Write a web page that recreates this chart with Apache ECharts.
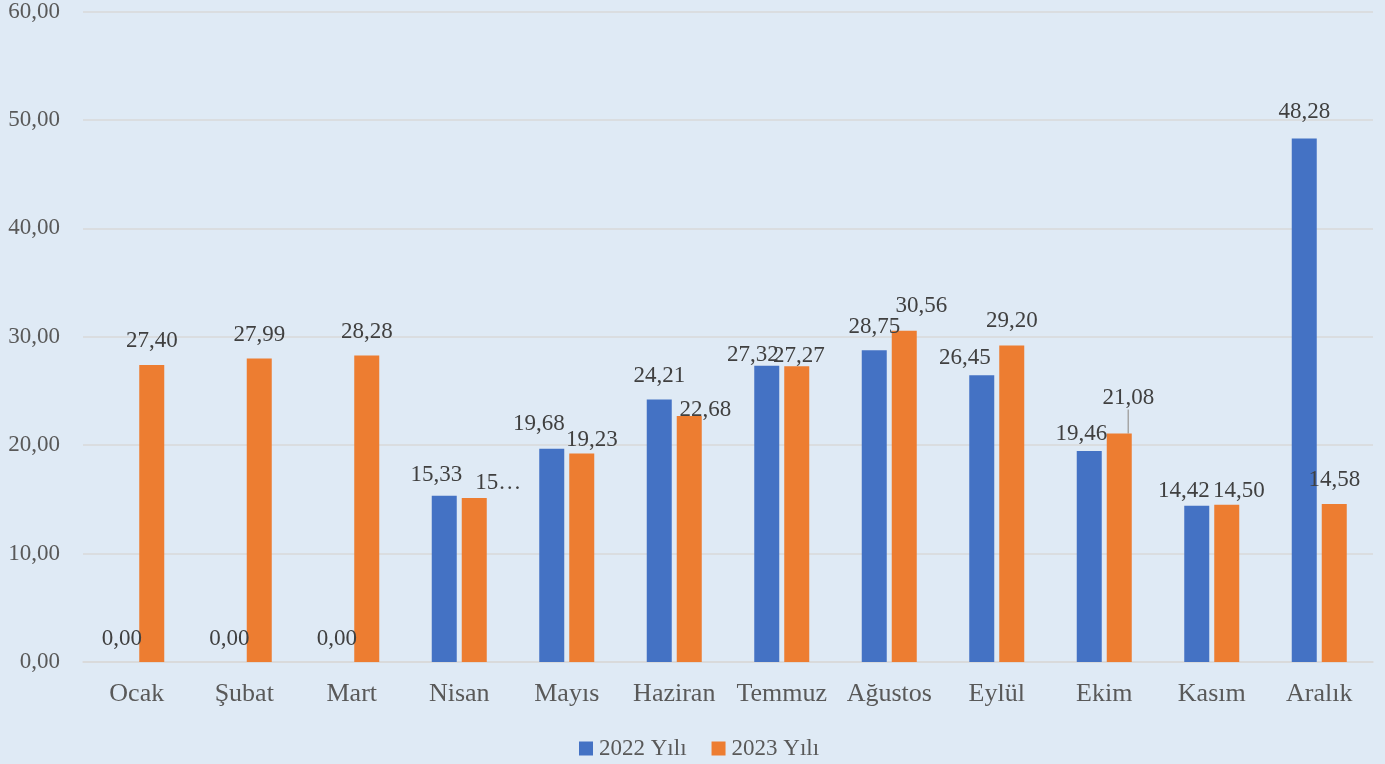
<!DOCTYPE html>
<html>
<head>
<meta charset="utf-8">
<script src="https://cdn.jsdelivr.net/npm/echarts@6/dist/echarts.min.js"></script>
<style>
  html, body { margin: 0; padding: 0; background: #dfeaf5; }
  #main { width: 1385px; height: 764px; }
</style>
</head>
<body>
<div id="main"></div>
<script>
// aylar
const months = ['Ocak', 'Şubat', 'Mart', 'Nisan', 'Mayıs', 'Haziran', 'Temmuz', 'Ağustos', 'Eylül', 'Ekim', 'Kasım', 'Aralık']
const values2022 = [0, 0, 0, 15.33, 19.68, 24.21, 27.32, 28.75, 26.45, 19.46, 14.42, 48.28]
const values2023 = [27.40, 27.99, 28.28, 15.12, 19.23, 22.68, 27.27, 30.56, 29.20, 21.08, 14.50, 14.58]
const seriesNames = ['2022 Yılı', '2023 Yılı']

const FONT = 'Liberation Serif'
const fmt = v => v.toFixed(2).replace('.', ',')

// etiket kaydırmaları (Excel'deki gibi çakışmayı önlemek için) [dx, dy]
const shifts = [
  { 3: [-8, 3], 4: [-13, -1], 6: [-14, 13], 8: [-17, 6], 9: [-8, 6], 10: [-13, 9], 11: [0, -3] },
  { 3: [24, 8], 4: [10, 10], 5: [16, 17], 6: [2, 13], 7: [17, -1], 8: [0, -1], 9: [9, -12], 10: [12, 10] }
]

function buildData(values, seriesIdx) {
  return values.map((v, i) => {
    const item = { value: v }
    if (seriesIdx === 1 && i === 3) item.label = { formatter: '15…' }
    if (seriesIdx === 1 && i === 9) item.labelLine = { show: true }
    return item
  })
}

const labelStyle = {
  show: true, position: 'top', distance: 12,
  fontFamily: FONT, fontSize: 23, color: '#404040',
  formatter: p => fmt(p.value)
}

function moveLabel(params) {
  const s = shifts[params.seriesIndex][params.dataIndex]
  if (s) return { dx: s[0], dy: s[1] }
}

const chart = echarts.init(document.getElementById('main'))
const option = {
  backgroundColor: '#dfeaf5',
  textStyle: { fontFamily: FONT },
  color: ['#4472c4', '#ed7d31'],
  grid: { left: 83, right: 12, top: 11, bottom: 102 },
  legend: {
    top: 732,
    left: 574,
    itemWidth: 14,
    itemHeight: 14,
    itemGap: 25,
    icon: 'rect',
    textStyle: { fontFamily: FONT, fontSize: 23, color: '#595959', padding: [0, 0, 0, 1] },
    data: seriesNames
  },
  xAxis: {
    type: 'category',
    data: months,
    axisLine: { lineStyle: { color: '#d9d9d9', width: 1.5 } },
    axisTick: { show: false },
    axisLabel: { interval: 0, fontFamily: FONT, fontSize: 26, color: '#595959', margin: 19 }
  },
  yAxis: {
    type: 'value',
    min: 0,
    max: 60,
    interval: 10,
    axisLine: { show: false },
    axisTick: { show: false },
    splitLine: { lineStyle: { color: '#d9d9d9', width: 1.5 } },
    axisLabel: {
      fontFamily: FONT, fontSize: 23, color: '#595959', margin: 23,
      formatter: v => fmt(v)
    }
  },
  series: [
    {
      name: seriesNames[0],
      type: 'bar',
      barWidth: 25,
      barGap: '20%',
      data: buildData(values2022, 0),
      label: labelStyle,
      labelLayout: moveLabel
    },
    {
      name: seriesNames[1],
      type: 'bar',
      barWidth: 25,
      data: buildData(values2023, 1),
      label: labelStyle,
      labelLine: { show: false, lineStyle: { color: '#a6a6a6', width: 1.5 } },
      labelLayout: moveLabel
    }
  ]
}
chart.setOption(option)
</script>
</body>
</html>
